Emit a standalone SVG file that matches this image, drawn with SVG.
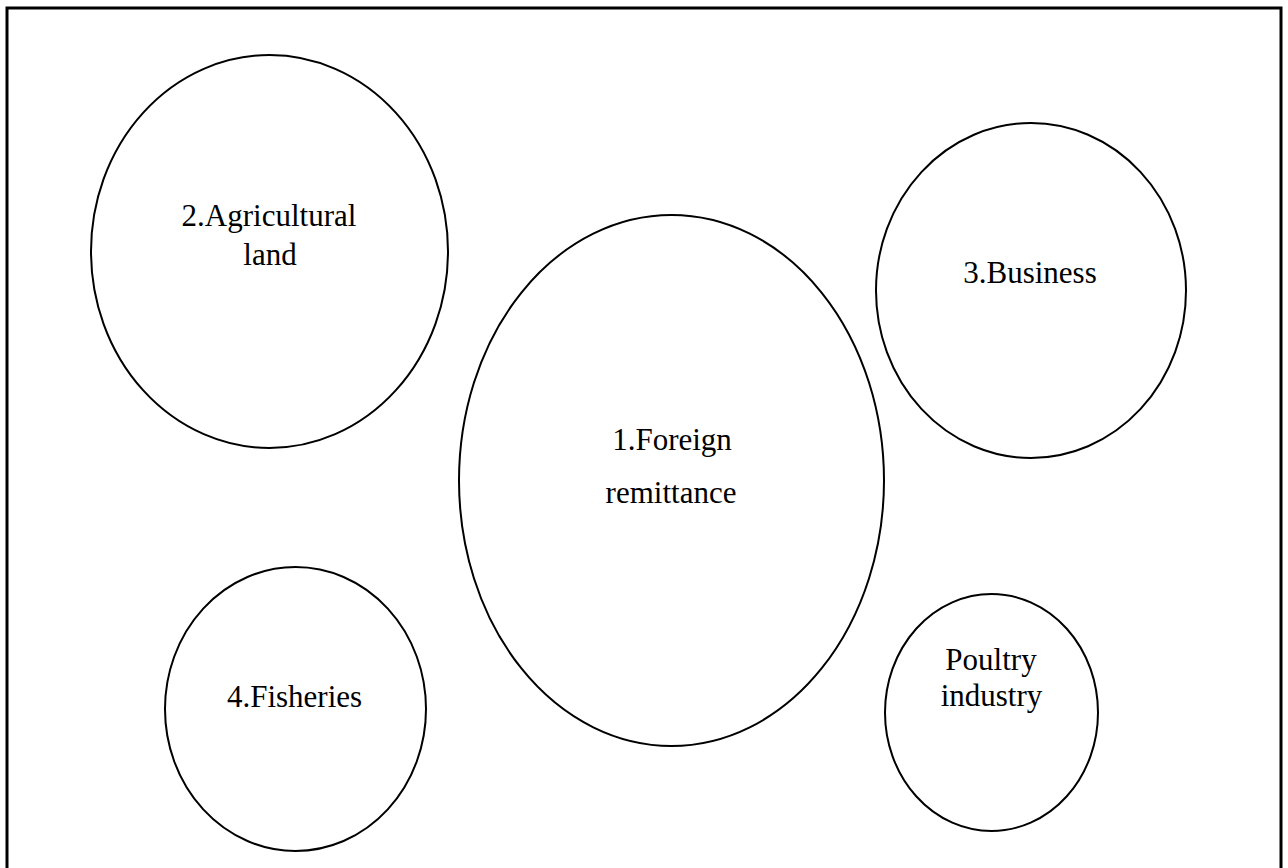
<svg xmlns="http://www.w3.org/2000/svg" width="1288" height="868" viewBox="0 0 1288 868">
<style>
.n{fill:none;stroke:#000;stroke-width:2}
.t{font-family:"Liberation Serif","Times New Roman",serif;font-size:31px;fill:#000;text-anchor:middle}
</style>
<rect x="0" y="0" width="1288" height="868" fill="#fff"/>
<rect x="7" y="8" width="1274" height="880" fill="none" stroke="#000" stroke-width="3"/>
<g id="connectors"></g>
<g id="n2"><ellipse class="n" cx="269.5" cy="251.5" rx="178.5" ry="196.5"/><text class="t" x="269" y="226">2.Agricultural</text><text class="t" x="270" y="265">land</text></g>
<g id="n3"><ellipse class="n" cx="1031" cy="290.5" rx="155" ry="167.5"/><text class="t" x="1030" y="283">3.Business</text></g>
<g id="n1"><ellipse class="n" cx="671.5" cy="480.5" rx="212.5" ry="265.5"/><text class="t" x="672" y="450">1.Foreign</text><text class="t" x="671" y="503">remittance</text></g>
<g id="n4"><ellipse class="n" cx="295.5" cy="709" rx="130.5" ry="142"/><text class="t" x="294.5" y="707">4.Fisheries</text></g>
<g id="n5"><ellipse class="n" cx="991.5" cy="712.5" rx="106.5" ry="118.5"/><text class="t" x="991" y="670">Poultry</text><text class="t" x="991.5" y="706">industry</text></g>
</svg>
